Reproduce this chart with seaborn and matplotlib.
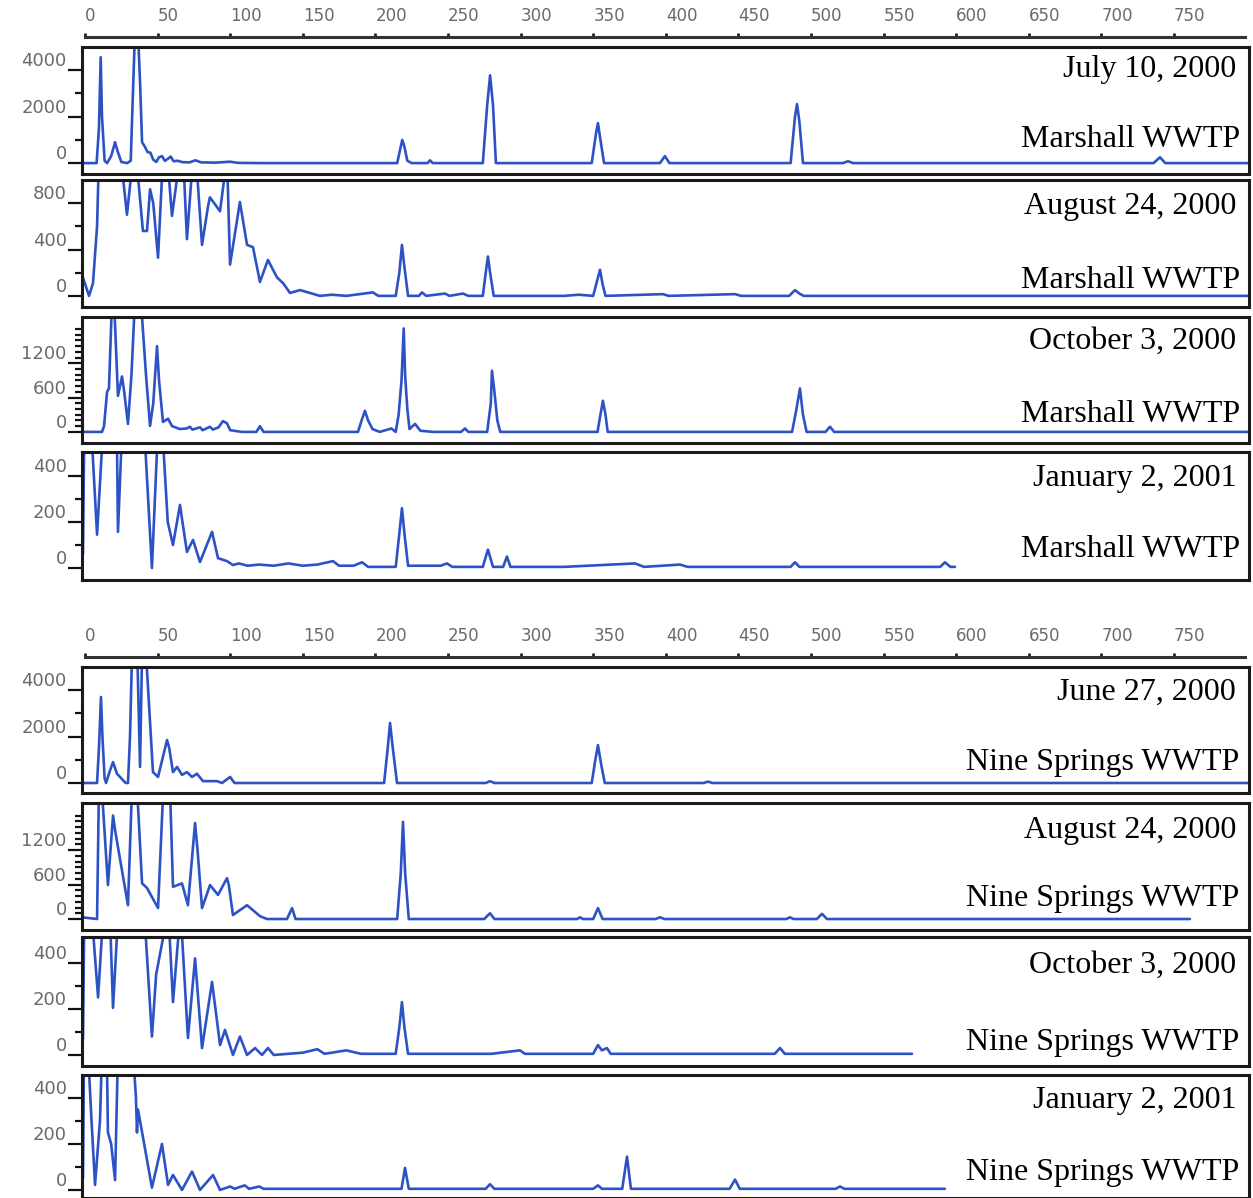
import matplotlib.pyplot as plt
import seaborn as sns

sns.set_theme(style="white")
plt.rcParams["font.family"] = ["DejaVu Sans"]

# ---- data (fragment size, intensity) ----
jul00_m_x = [-2, 8, 9.6, 10.8, 11.7, 13.5, 15.2, 18, 20.7, 22.5, 25, 29, 31.5, 33, 34.4, 36.5, 37.9, 39.3,
             41.3, 43, 45, 47, 49, 51, 53, 55, 57, 59, 61, 64, 67, 72, 76, 80, 90, 100, 105, 120, 215,
             218.5, 220, 222, 225, 236, 237.6, 239.5, 274, 277, 279, 281, 283, 349, 352, 353.3, 355,
             357.5, 396, 399.4, 402.5, 486, 489, 490.4, 492, 494.5, 522, 525.5, 529, 736, 740.4, 744, 802]
jul00_m_y = [0, 0, 1500, 4560, 2000, 100, 0, 300, 900, 500, 50, 0, 100, 3000, 5600, 5600, 3500, 900,
             700, 480, 450, 150, 50, 250, 300, 100, 180, 280, 80, 100, 40, 30, 120, 30, 20, 60, 10, 0, 0,
             1000, 700, 100, 0, 0, 120, 0, 0, 2500, 3780, 2500, 0, 0, 1300, 1720, 1000,
             0, 0, 300, 0, 0, 2000, 2540, 1800, 0, 0, 80, 0, 0, 250, 0, 0]

aug00_m_x = [-1.4, 2.8, 5.5, 8.3, 9.6, 12, 18, 22, 25.5, 28.9, 33.1, 36, 39.9, 42.7, 44.8, 47, 50.3,
             53.7, 57, 59.9, 65.4, 68, 70.2, 74.4, 77, 80.6, 84.7, 86, 89, 93, 97.8, 99.9, 106.7, 111.6,
             115.7, 120.5, 126, 132.2, 136.4, 141.2, 148, 155, 161.8, 170, 180, 198.3, 202, 214, 216.5,
             218.3, 220, 222.5, 230, 232.1, 235, 247.9, 251, 260.3, 264, 274, 276, 277.5, 279, 281.5,
             330, 340, 350, 352.5, 354.7, 356.5, 358.5, 398.1, 402, 447.7, 452, 485, 489, 492, 495, 802]
aug00_m_y = [157, 0, 110, 600, 1200, 1400, 1300, 1200, 1100, 700, 1200, 1100, 560, 560, 920, 800, 330,
             1200, 1150, 690, 1200, 1100, 490, 1200, 1100, 440, 770, 850, 800, 730, 1200, 270, 810, 440,
             420, 120, 310, 160, 110, 25, 50, 25, 0, 10, 0, 30, 0, 0, 200,
             440, 250, 0, 0, 30, 0, 20, 0, 20, 0, 0, 200, 340, 200, 0,
             0, 10, 0, 120, 225, 100, 0, 15, 0, 15, 0, 0, 50, 20, 0, 0]

oct00_m_x = [-2, 11.7, 13.1, 14.5, 15.2, 16.5, 18.6, 20, 22.7, 25.5, 27, 29.6, 32, 34.4, 38.5, 42,
             44.8, 47, 49.6, 51, 53.7, 57.2, 60, 65.4, 70, 72.3, 74, 79.2, 81, 86.1, 88, 92, 95, 97.8,
             100, 108, 118, 120.5, 123, 188, 190.5, 192.8, 195, 198, 203, 211, 214, 216, 218, 219.5,
             220.5, 222, 223.5, 227.3, 231, 240, 259, 261.7, 264, 277, 279.5, 280.3, 282, 284, 286,
             353, 355, 356.7, 358.5, 360, 487, 490, 492.4, 494.5, 497, 510, 513.1, 516, 802]
oct00_m_y = [0, 0, 100, 500, 700, 760, 2300, 2300, 630, 970, 700, 140, 1000, 2300, 2300, 1000,
             105, 500, 1500, 900, 175, 230, 100, 50, 60, 90, 40, 80, 30, 90, 40, 80, 190, 150,
             30, 0, 0, 100, 0, 0, 200, 370, 200, 50, 0, 60, 0, 300, 900, 1810,
             985, 400, 50, 140, 20, 0, 0, 60, 0, 0, 500, 1070, 700, 200, 0,
             0, 300, 545, 300, 0, 0, 400, 760, 300, 0, 0, 90, 0, 0]

jan01_m_x = [-1.4, -0.5, 3, 4.8, 8.3, 12.4, 20, 22, 22.7, 25.5, 38, 41.3, 46.1, 49.5, 51.7, 54, 57,
             60.6, 65.4, 70.2, 74.4, 79.2, 87.5, 91.6, 97.8, 101.9, 106, 112, 120, 130, 140, 150, 160,
             170.8, 175, 185, 190.8, 195, 214, 216.5, 218.3, 220, 222.5, 245, 249.3, 253, 274, 277.5,
             281, 288, 290.6, 293, 330, 378.8, 385, 409.8, 415, 486, 489, 492, 589, 592.3, 596, 599.2]
jan01_m_y = [60, 600, 600, 550, 145, 600, 600, 550, 157, 600, 600, 550, 0, 500, 600, 520, 200,
             100, 274, 70, 122, 26, 157, 43, 30, 13, 20, 10, 15, 10, 20, 10, 15,
             30, 10, 10, 25, 5, 5, 150, 260, 150, 10, 10, 20, 5, 5, 80,
             5, 5, 50, 5, 5, 20, 5, 15, 5, 5, 25, 5, 5, 25, 5, 5]

jun00_n_x = [-2, 8.3, 9.6, 11.0, 12, 13.5, 14.5, 17, 19.3, 22, 24.1, 28, 29.6, 31, 32.4, 36, 37.9,
             39.3, 42, 46.8, 50.3, 56.5, 58, 60.6, 63.4, 66.8, 70.2, 73.7, 77.1, 81.3, 90.9, 94.4,
             99.9, 103, 206, 208.5, 210.1, 212, 214.9, 276, 278.9, 282, 349, 351.5, 353.3, 355.5, 358,
             426, 429.1, 432, 802]
jun00_n_y = [0, 0, 1500, 3700, 2000, 200, 0, 500, 900, 400, 260, 0, 0, 2000, 5600, 5600, 690,
             5600, 5600, 470, 260, 1850, 1500, 470, 690, 350, 470, 260, 400, 80, 80, 0,
             260, 0, 0, 1500, 2580, 1500, 0, 0, 80, 0, 0, 1000, 1630, 800, 0,
             0, 60, 0, 0]

aug00_n_x = [-2, 8.3, 9.6, 11.5, 15.8, 19.3, 21, 29.6, 32.4, 35.8, 39.3, 42.7, 50.3, 54, 58.5, 60.6,
             66.8, 70.9, 75.8, 77.5, 80.6, 86.1, 91.6, 97.8, 99, 101.9, 111.6, 120.5, 125.3, 139.1,
             142.6, 145, 215, 217.5, 219, 220.5, 223, 275, 278.9, 282, 339, 340.9, 343, 350, 353.3,
             356.5, 393, 396, 399, 483, 485.5, 488, 504, 507.6, 511, 761]
aug00_n_y = [30, 0, 2300, 2300, 590, 1800, 1500, 240, 2300, 2300, 620, 540, 190, 2300, 2300, 560,
             620, 240, 1670, 1200, 190, 590, 420, 710, 600, 70, 240, 50, 0, 0,
             190, 0, 0, 800, 1690, 800, 0, 0, 100, 0, 0, 30, 0, 0, 190,
             0, 0, 30, 0, 0, 30, 0, 0, 90, 0, 0]

oct00_n_x = [-1.4, -0.5, 3.5, 6, 9.0, 12.4, 17.2, 19.3, 22.7, 39.9, 42, 46.1, 49, 56.5, 58, 60.6,
             65.4, 67, 70.9, 75.8, 80.6, 87.5, 93.0, 96.4, 101.9, 106.7, 111.6, 117.1, 121.9, 126,
             130, 150, 160, 165, 180, 190, 214, 216.5, 218.3, 220, 222.5, 280, 299.6, 303, 350, 353.3,
             356, 359.5, 362, 475, 478.7, 482, 569.6]
oct00_n_y = [65, 600, 600, 500, 250, 600, 600, 205, 600, 600, 500, 80, 350, 600, 550, 230,
             600, 500, 74, 420, 30, 318, 43, 109, 0, 80, 0, 30, 0, 30,
             0, 10, 25, 5, 20, 5, 5, 120, 230, 120, 5, 5, 20, 5, 5, 43,
             20, 30, 5, 5, 30, 5, 5]

jan01_n_x = [-1.4, -0.7, 2.1, 4.5, 6.9, 10.3, 11.7, 15, 15.8, 18, 20.7, 22.7, 33.1, 35.1, 35.8, 36.5,
             39.9, 46.1, 53.0, 57.2, 60.6, 66.8, 73.7, 79.2, 88.2, 93, 100, 103, 110, 113, 120, 123,
             200, 218, 220.4, 223, 276, 278.9, 282, 350, 353.3, 356, 370, 373.3, 376, 444, 447.7, 451,
             517, 520, 523, 592.3]
jan01_n_y = [50, 600, 600, 300, 22, 300, 600, 600, 250, 200, 43, 600, 600, 400, 250, 350,
             230, 10, 200, 22, 65, 0, 80, 0, 65, 0, 15, 5, 20, 5, 15, 5,
             5, 5, 96, 5, 5, 25, 5, 5, 20, 5, 5, 145, 5, 5, 45, 5,
             5, 15, 5, 5]

dates = ["July 10, 2000", "August 24, 2000", "October 3, 2000", "January 2, 2001",
         "June 27, 2000", "August 24, 2000", "October 3, 2000", "January 2, 2001"]
sites = ["Marshall WWTP"] * 4 + ["Nine Springs WWTP"] * 4
size_ticks = [0, 50, 100, 150, 200, 250, 300, 350, 400, 450, 500, 550, 600, 650, 700, 750]
y_major = [[0, 2000, 4000], [0, 400, 800], [0, 600, 1200], [0, 200, 400],
           [0, 2000, 4000], [0, 600, 1200], [0, 200, 400], [0, 200, 400]]
dense = [100, 200, 300, 400, 500, 700, 800, 900, 1000, 1100, 1300, 1400, 1500, 1600, 1700, 1800]
y_minor = [[1000, 3000], [200, 600], dense, [100, 300],
           [1000, 3000], dense, [100, 300], [100, 300]]

traces = [(jul00_m_x, jul00_m_y), (aug00_m_x, aug00_m_y), (oct00_m_x, oct00_m_y), (jan01_m_x, jan01_m_y),
          (jun00_n_x, jun00_n_y), (aug00_n_x, aug00_n_y), (oct00_n_x, oct00_n_y), (jan01_n_x, jan01_n_y)]

# ---- layout (pixels) ----
W, H = 1253, 1198
panel_px = [(47, 174), (180, 307), (317, 443), (452, 580),
            (667, 793), (803, 930), (937, 1066), (1075, 1198)]
ylims = [(-470, 5000), (-96, 1000), (-194, 2010), (-52, 504),
         (-430, 4990), (-191, 2018), (-48, 513), (-35, 500)]
date_pos = [0.82, 0.795, 0.81, 0.79, 0.80, 0.78, 0.78, 0.79]
site_pos = [0.27, 0.205, 0.23, 0.24, 0.246, 0.25, 0.18, 0.21]
scale_lines = [38, 658]

blue = "#2d52c6"
grey = "#6a6a6a"

fig = plt.figure(figsize=(W / 100, H / 100), dpi=100)

# size scale above each group of four traces
for line_y in scale_lines:
    ax_s = fig.add_axes([85 / W, 1 - line_y / H, 1160 / W, 0.0005])
    ax_s.set_xlim(0, 1160 / 1.452)
    for side in ["left", "right", "bottom"]:
        ax_s.spines[side].set_visible(False)
    ax_s.spines["top"].set_linewidth(2.2)
    ax_s.spines["top"].set_color("#333333")
    ax_s.set_yticks([])
    ax_s.xaxis.tick_top()
    ax_s.set_xticks(size_ticks)
    ax_s.set_xticklabels([str(v) for v in size_ticks])
    ax_s.tick_params(axis="x", direction="out", length=3, width=2, color="#222222",
                     labelsize=12, labelcolor=grey, pad=6)
    plt.setp(ax_s.get_xticklabels(), ha="left")

for i, (xs, ys) in enumerate(traces):
    top, bot = panel_px[i]
    ax = fig.add_axes([82 / W, 1 - bot / H, 1167 / W, (bot - top) / H])
    sns.lineplot(x=xs, y=ys, ax=ax, color=blue, linewidth=1.9, estimator=None, sort=False)
    ax.set_xlim(-2.07, 801.7)
    ax.set_ylim(*ylims[i])
    ax.set_xticks([])
    ax.set_yticks(y_major[i])
    ax.set_yticklabels([str(v) for v in y_major[i]])
    ax.set_yticks(y_minor[i], minor=True)
    ax.tick_params(axis="y", which="major", direction="out", length=10, width=1.6,
                   color="#111111", left=True, labelsize=13, labelcolor=grey, pad=1)
    ax.tick_params(axis="y", which="minor", direction="out", length=5, width=1.6,
                   color="#111111", left=True)
    plt.setp(ax.get_yticklabels(), va="bottom")
    for side in ax.spines.values():
        side.set_linewidth(2.2)
        side.set_color("#1a1a1a")
    ax.text(0.989, date_pos[i], dates[i], transform=ax.transAxes, ha="right", va="center",
            fontsize=23, family=["Liberation Serif", "DejaVu Serif"], color="black")
    ax.text(0.992, site_pos[i], sites[i], transform=ax.transAxes, ha="right", va="center",
            fontsize=23, family=["Liberation Serif", "DejaVu Serif"], color="black")

fig.savefig("out.png", dpi=100, facecolor="white")
